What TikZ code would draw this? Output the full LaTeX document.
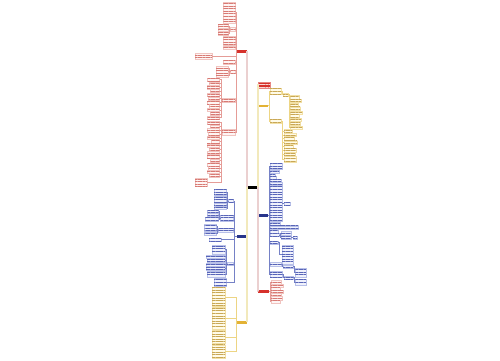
\documentclass[tikz,border=0pt]{standalone}
\usetikzlibrary{patterns.meta}
\definecolor{kR}{HTML}{D6312B}
\definecolor{kY}{HTML}{E3B234}
\definecolor{kB}{HTML}{27348B}
\definecolor{fR}{HTML}{FEF5F4}
\definecolor{bR}{HTML}{F0C4C0}
\definecolor{tR}{HTML}{D87A74}
\definecolor{fY}{HTML}{FFFBE8}
\definecolor{bY}{HTML}{F2E0A6}
\definecolor{tY}{HTML}{C9A856}
\definecolor{fB}{HTML}{F0F2FC}
\definecolor{bB}{HTML}{B8C0E8}
\definecolor{tB}{HTML}{5865B8}
\definecolor{lnR}{HTML}{E59C97}
\definecolor{lnY}{HTML}{EDD584}
\definecolor{lnB}{HTML}{7581C6}
\definecolor{trR}{HTML}{EBD0D0}
\definecolor{trY}{HTML}{F2E9BC}
\definecolor{trB}{HTML}{CDD1EC}
\newcommand\nd[6]{\node[#1,anchor=north west,minimum width={#5*0.02cm},minimum height={(#6*2.6+0.6)*0.02cm}] (#2) at (#3,#4) {};}
\newcommand\brn[6]{\node[#1,anchor=north west,minimum width={#5*0.02cm},minimum height={#6*0.02cm}] (#2) at (#3,#4) {};}
\newcommand\lkL[3]{\draw[#3] (#1.west) -- ++(-1,0) |- (#2.east);}
\newcommand\lkR[3]{\draw[#3] (#1.east) -- ++(1,0) |- (#2.west);}
\begin{document}
\begin{tikzpicture}[x=0.02cm,y=-0.02cm,
  lf/.style={inner sep=0pt,outer sep=0pt,line width=0.15pt},
  lfR/.style={lf,fill=fR,draw=bR,postaction={pattern={Lines[angle=0,distance=1.47pt,line width=0.55pt]},pattern color=tR}},
  lfY/.style={lf,fill=fY,draw=bY,postaction={pattern={Lines[angle=0,distance=1.47pt,line width=0.55pt]},pattern color=tY}},
  lfB/.style={lf,fill=fB,draw=bB,postaction={pattern={Lines[angle=0,distance=1.47pt,line width=0.55pt]},pattern color=tB}},
  brR/.style={lf,fill=kR},
  brY/.style={lf,fill=kY},
  brB/.style={lf,fill=kB},
  brK/.style={lf,fill=black},
  brT/.style={lf,fill=kR,draw=kR!60,postaction={pattern={Lines[angle=0,distance=1.6pt,line width=0.6pt]},pattern color=white!80!kR}},
  cR/.style={draw=lnR,line width=0.3pt},
  cY/.style={draw=lnY,line width=0.3pt},
  cB/.style={draw=lnB,line width=0.3pt},
  tkR/.style={draw=trR,line width=0.7pt},
  tkY/.style={draw=trY,line width=0.7pt},
  tkB/.style={draw=trB,line width=0.7pt}]
\fill[white] (0,0) rectangle (500,360);
\useasboundingbox (0,0) rectangle (500,360);

% ---------- main nodes ----------
\brn{brK}{C}{247}{185.5}{11}{3}
\brn{brT}{T}{258}{82}{12}{6}
\brn{brR}{R1}{237}{50}{10}{2.5}
\brn{brY}{Y1}{258}{104.5}{10}{2.5}
\brn{brB}{B1}{258}{214}{10}{2.5}
\brn{brR}{R2}{258}{290}{11}{2.5}
\brn{brB}{B2}{237}{235}{10}{2.5}
\brn{brY}{Y2}{237}{321}{10}{2.5}

% ---------- trunk ----------
\draw[tkB] (C.west) |- (B2.east);
\draw[tkR] (C.west) |- (R1.east);
\draw[tkY] (C.west) |- (Y2.east);
\draw[tkY] (C.east) |- (Y1.west);
\draw[tkY] (C.east) |- (T.west);
\draw[tkB] (C.east) |- (B1.west);
\draw[tkR] (C.east) |- (R2.west);

% ---------- R1 (top left, red) ----------
\nd{lfR}{c1}{223}{2}{12.5}{8}
\nd{lfR}{c2}{230.5}{27.5}{5}{1}
\nd{lfR}{c2a}{218}{24.5}{10.5}{1}
\nd{lfR}{c2b}{218}{28}{10.5}{1}
\nd{lfR}{c2c}{218}{31.5}{10.5}{1}
\nd{lfR}{c3}{223}{36.5}{12.5}{3}
\nd{lfR}{c4}{223}{46.3}{12.5}{1}
\nd{lfR}{c5}{195}{53.5}{17}{2}
\nd{lfR}{c6}{223}{60.5}{12}{1}
\nd{lfR}{c7}{230.5}{70}{5}{1}
\nd{lfR}{c7a}{216}{66.5}{12}{1}
\nd{lfR}{c7b}{216}{70}{12}{1}
\nd{lfR}{c7c}{216}{73.5}{12}{1}
\nd{lfR}{S1}{222}{98.5}{13}{1}
\nd{lfR}{S2}{222}{129}{13}{2}
\foreach \i/\y/\w in {1/78/12,2/81.8/10,3/85.6/12.5,4/89.4/9,5/93.2/12,6/97/11,7/100.8/12.5,8/104.6/10,9/108.4/12,10/112.2/9,11/116/12}
  {\nd{lfR}{La\i}{219.5-\w}{\y}{\w}{1}}
\foreach \i/\y/\w in {1/121/12,2/124.8/9,3/128.6/12.5,4/132.4/11,5/136.2/12,6/140/8,7/143.8/12.5,8/147.6/10,9/151.4/12,10/155.2/12.5,11/159/9,12/162.8/12,13/166.6/11,14/170.4/12.5,15/174.2/10}
  {\nd{lfR}{Lb\i}{219.5-\w}{\y}{\w}{1}}
\nd{lfR}{Lb16}{195}{178}{12}{3}
\foreach \c in {c1,c2,c3,c4,c5,c6,c7,S1,S2} {\lkL{R1}{\c}{cR}}
\foreach \c in {c2a,c2b,c2c} {\lkL{c2}{\c}{cR}}
\foreach \c in {c7a,c7b,c7c} {\lkL{c7}{\c}{cR}}
\foreach \i in {1,...,11} {\lkL{S1}{La\i}{cR}}
\foreach \i in {1,...,16} {\lkL{S2}{Lb\i}{cR}}

% ---------- Y1 (right, yellow) ----------
\nd{lfY}{ya}{270}{88.5}{11}{2}
\nd{lfY}{ya1}{283}{93}{5}{1}
\nd{lfY}{yb}{270}{119.5}{11}{1}
\foreach \i/\y/\w in {1/95.5/9,2/99.3/11,3/103.1/8,4/106.9/10,5/110.7/12,6/114.5/9,7/118.3/11,8/122.1/10,9/125.9/12}
  {\nd{lfY}{yl\i}{290}{\y}{\w}{1}}
\foreach \i/\y/\w in {1/129.5/8,2/133.3/12,3/137.1/10,4/140.9/13,5/144.7/9,6/148.5/12,7/152.3/11}
  {\nd{lfY}{ym\i}{284}{\y}{\w}{1}}
\nd{lfY}{ym8}{284}{156}{12}{2}
\foreach \c in {ya,yb} {\lkR{Y1}{\c}{cY}}
\lkR{ya}{ya1}{cY}
\foreach \i in {1,...,9} {\lkR{ya1}{yl\i}{cY}}
\foreach \i in {1,...,8} {\lkR{yb}{ym\i}{cY}}

% ---------- B1 (right, blue) ----------
\nd{lfB}{b1}{270}{163.5}{12}{2}
\nd{lfB}{b2}{270}{169.8}{9}{1}
\nd{lfB}{b3}{270}{172.9}{5}{1}
\nd{lfB}{b4}{270}{176}{6}{1}
\nd{lfB}{b5}{270}{179.1}{11}{1}
\nd{lfB}{b6}{270}{182.2}{12}{1}
\nd{lfB}{b9}{270}{186.5}{12}{13}
\nd{lfB}{b9a}{284}{202}{6}{1}
\nd{lfB}{b10}{270}{222}{10}{1}
\nd{lfB}{b11}{270}{225.8}{28.5}{1}
\nd{lfB}{b12}{270}{229.6}{8}{1}
\nd{lfB}{b13}{270}{233.4}{9}{1}
\nd{lfB}{b13a}{281}{231.5}{10}{1}
\nd{lfB}{b13b}{281}{236}{10}{1}
\nd{lfB}{b13c}{293}{236}{4}{1}
\nd{lfB}{b14}{270}{241}{8}{1}
\nd{lfB}{b14a}{282}{245}{11}{7}
\nd{lfB}{b15}{270}{262.5}{11}{1}
\nd{lfB}{b15a}{283}{265}{10}{1}
\nd{lfB}{b15b}{295}{268.5}{11}{3}
\nd{lfB}{b16}{270}{271.5}{12}{2}
\nd{lfB}{b16a}{284}{276}{9}{1}
\nd{lfB}{b16b}{295}{279}{11}{2}
\foreach \c in {b1,b2,b3,b4,b5,b6,b9,b10,b11,b12,b13,b14,b15,b16} {\lkR{B1}{\c}{cB}}
\lkR{b9}{b9a}{cB}
\lkR{b13}{b13a}{cB}
\lkR{b13}{b13b}{cB}
\lkR{b13b}{b13c}{cB}
\lkR{b14}{b14a}{cB}
\lkR{b15}{b15a}{cB}
\lkR{b15a}{b15b}{cB}
\lkR{b16}{b16a}{cB}
\lkR{b16a}{b16b}{cB}

% ---------- R2 (right bottom, red) ----------
\foreach \i/\y/\w in {1/280.5/10,2/283.7/12,3/286.9/9,4/290.1/12,5/293.3/10,6/296.5/11,7/299.7/9}
  {\nd{lfR}{r\i}{271}{\y}{\w}{1}}
\foreach \i in {1,...,7} {\lkR{R2}{r\i}{cR}}

% ---------- B2 (left, blue) ----------
\nd{lfB}{g1}{228.5}{199.3}{5}{1}
\nd{lfB}{g1a}{214}{189.5}{12.5}{2}
\nd{lfB}{g1b}{214}{196}{12.5}{1}
\nd{lfB}{g1c}{214}{199.4}{12.5}{1}
\nd{lfB}{g1d}{214}{202.8}{12.5}{1}
\nd{lfB}{g1e}{214}{206.2}{12.5}{1}
\nd{lfB}{g2}{220.5}{215.5}{13}{2}
\nd{lfB}{g2a}{207.5}{209.8}{11}{1}
\nd{lfB}{g2b}{207.5}{213.3}{11}{1}
\nd{lfB}{g2c}{205}{217.5}{13.5}{1}
\nd{lfB}{g3}{218.5}{228.5}{15}{1}
\nd{lfB}{g3a}{204.5}{224.5}{12}{1}
\nd{lfB}{g3b}{204.5}{228.2}{12}{1}
\nd{lfB}{g3c}{204.5}{231.9}{12}{1}
\nd{lfB}{g4}{209}{238}{12}{1}
\nd{lfB}{g5}{227}{262}{6.5}{1}
\nd{lfB}{g5a}{212}{245.5}{13}{3}
\nd{lfB}{g5b}{206}{255}{19}{1}
\nd{lfB}{g5c}{207}{259}{18}{1}
\nd{lfB}{g5d}{206}{263}{19}{1}
\nd{lfB}{g5e}{206}{267}{19}{1}
\nd{lfB}{g5f}{207}{271}{18}{2}
\nd{lfB}{g6}{214}{278}{12.5}{3}
\foreach \c in {g1,g2,g3,g4,g5,g6} {\draw[cB] (B2.west) -- ++(-2.5,0) |- (\c.east);}
\foreach \c in {g1a,g1b,g1c,g1d,g1e} {\lkL{g1}{\c}{cB}}
\foreach \c in {g2a,g2b,g2c} {\lkL{g2}{\c}{cB}}
\foreach \c in {g3a,g3b,g3c} {\lkL{g3}{\c}{cB}}
\foreach \c in {g5a,g5b,g5c,g5d,g5e,g5f} {\lkL{g5}{\c}{cB}}

% ---------- Y2 (bottom left, yellow) ----------
\nd{lfY}{ya2}{212}{287.5}{13}{7}
\nd{lfY}{yb2}{212}{307.5}{13}{8}
\nd{lfY}{yc2}{212}{330}{13}{5}
\nd{lfY}{yd2}{212}{344.8}{13}{5}
\foreach \c in {ya2,yb2,yc2,yd2} {\draw[cY] (Y2.west) -- ++(-1,0) |- (\c.east);}
\end{tikzpicture}
\end{document}
